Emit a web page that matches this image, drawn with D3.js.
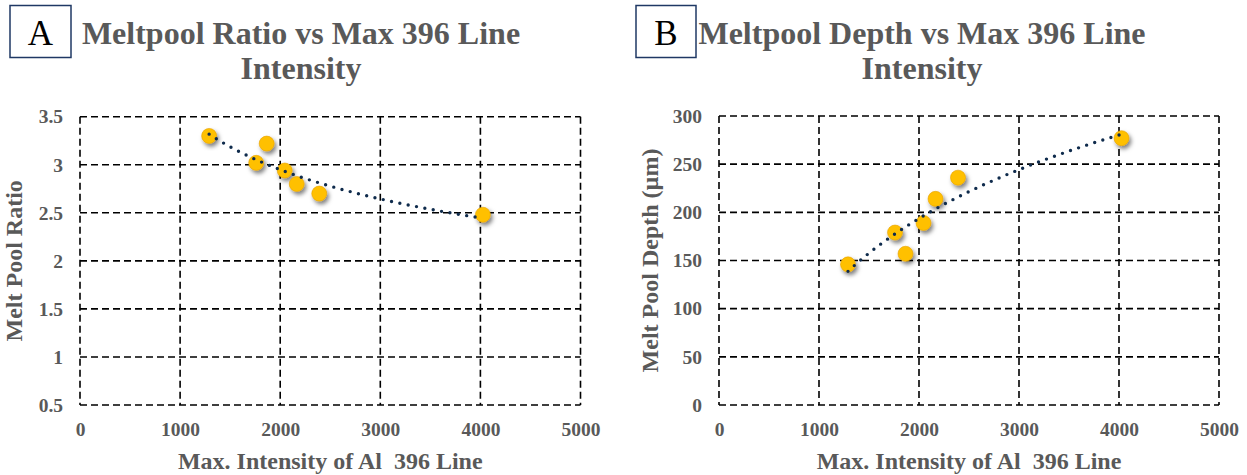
<!DOCTYPE html>
<html>
<head>
<meta charset="utf-8">
<script src="https://cdn.jsdelivr.net/npm/d3@7"></script>
<style>
  body { margin: 0; background: #fff; }
  svg { display: block; font-family: "Liberation Serif", "Times New Roman", serif; }
  .tick text { fill: #595959; font-weight: bold; font-size: 19.5px; }
  .title { fill: #595959; font-weight: bold; font-size: 32px; }
  .axis-title { fill: #595959; font-weight: bold; font-size: 24px; }
</style>
</head>
<body>
<svg id="chart" width="1247" height="475"></svg>
<script>
// Data
const intensity = [1290, 1760, 1865, 2045, 2165, 2390, 4025];
const meltRatio = [3.30, 3.02, 3.22, 2.94, 2.80, 2.70, 2.48];
const meltDepth = [146, 179, 157, 189, 214, 236, 277];
const xTicks = [0, 1000, 2000, 3000, 4000, 5000];
const ratioTicks = [0.5, 1, 1.5, 2, 2.5, 3, 3.5];
const depthTicks = [0, 50, 100, 150, 200, 250, 300];

const svg = d3.select('#chart');

// drop shadow for markers
const defs = svg.append('defs');
defs.append('filter').attr('id', 'shadow')
  .attr('x', '-50%').attr('y', '-50%').attr('width', '200%').attr('height', '200%')
  .append('feDropShadow')
  .attr('dx', 2).attr('dy', 3).attr('stdDeviation', 2)
  .attr('flood-color', '#000').attr('flood-opacity', 0.5);

// least squares fits (trendlines)
function powerFit(xs, ys) {
  const lx = xs.map(Math.log), ly = ys.map(Math.log);
  const mx = d3.mean(lx), my = d3.mean(ly);
  const b = d3.sum(lx, (v, i) => (v - mx) * (ly[i] - my)) / d3.sum(lx, v => (v - mx) ** 2);
  const a = Math.exp(my - b * mx);
  return x => a * Math.pow(x, b);
}
function logFit(xs, ys) {
  const lx = xs.map(Math.log);
  const mx = d3.mean(lx), my = d3.mean(ys);
  const b = d3.sum(lx, (v, i) => (v - mx) * (ys[i] - my)) / d3.sum(lx, v => (v - mx) ** 2);
  return x => my + b * (Math.log(x) - mx);
}

function drawPanel(cfg) {
  const g = svg.append('g');
  const x = d3.scaleLinear().domain([0, 5000]).range([cfg.left, cfg.right]);
  const y = d3.scaleLinear().domain(d3.extent(cfg.yTicks)).range([cfg.bottom, cfg.top]);

  // dashed grid (border included)
  const grid = g.append('g').attr('stroke', '#000').attr('stroke-width', 1.6)
    .attr('stroke-dasharray', '7,4').attr('fill', 'none');
  grid.selectAll('line.h').data(cfg.yTicks).enter().append('line')
    .attr('x1', cfg.left).attr('x2', cfg.right)
    .attr('y1', d => y(d)).attr('y2', d => y(d));
  grid.selectAll('line.v').data(xTicks).enter().append('line')
    .attr('y1', cfg.top).attr('y2', cfg.bottom)
    .attr('x1', d => x(d)).attr('x2', d => x(d));

  // axes (labels only)
  const xa = g.append('g').attr('transform', `translate(0,${cfg.bottom})`)
    .call(d3.axisBottom(x).tickValues(xTicks).tickSize(0).tickPadding(17).tickFormat(d3.format('d')));
  const ya = g.append('g').attr('transform', `translate(${cfg.left},0)`)
    .call(d3.axisLeft(y).tickValues(cfg.yTicks).tickSize(0).tickPadding(17).tickFormat(d => String(d)));
  [xa, ya].forEach(a => { a.select('.domain').remove(); a.attr('font-family', null).attr('font-size', null); });

  // markers
  g.append('g').selectAll('circle').data(intensity).enter().append('circle')
    .attr('cx', d => x(d)).attr('cy', (d, i) => y(cfg.values[i])).attr('r', 7.5)
    .attr('fill', '#ffc000').attr('stroke', '#e6a100').attr('stroke-width', 0.6)
    .attr('filter', 'url(#shadow)');

  // trendline
  const f = cfg.fit(intensity, cfg.values);
  const [x0, x1] = d3.extent(intensity);
  const pts = d3.range(0, 61).map(k => x0 + (x1 - x0) * k / 60);
  g.append('path').datum(pts)
    .attr('d', d3.line().x(d => x(d)).y(d => y(f(d))))
    .attr('fill', 'none').attr('stroke', '#0f2b4c').attr('stroke-width', 3.4)
    .attr('stroke-linecap', 'round').attr('stroke-dasharray', '0,8.5');

  // titles
  const cx = (cfg.left + cfg.right) / 2;
  g.append('text').attr('class', 'title').attr('text-anchor', 'middle')
    .attr('x', cfg.titleX).attr('y', 44).text(cfg.title[0]);
  g.append('text').attr('class', 'title').attr('text-anchor', 'middle')
    .attr('x', cfg.titleX).attr('y', 79).text(cfg.title[1]);
  g.append('text').attr('class', 'axis-title').attr('text-anchor', 'middle')
    .attr('x', cx).attr('y', 469).text('Max. Intensity of Al\u00a0\u00a0396 Line');
  g.append('text').attr('class', 'axis-title').attr('text-anchor', 'middle')
    .attr('transform', `translate(${cfg.yTitleX},${(cfg.top + cfg.bottom) / 2}) rotate(-90)`)
    .text(cfg.yTitle);

  // panel letter box
  g.append('rect').attr('x', cfg.box[0]).attr('y', 5.5).attr('width', cfg.box[1]).attr('height', 52)
    .attr('fill', '#fff').attr('stroke', '#1f3864').attr('stroke-width', 1.5);
  g.append('text').attr('x', cfg.box[0] + cfg.box[1] / 2).attr('y', 45)
    .attr('text-anchor', 'middle').attr('font-size', 35).attr('fill', '#000')
    .text(cfg.letter);
}

drawPanel({
  left: 80, right: 580.5, top: 116.7, bottom: 405,
  yTicks: ratioTicks, values: meltRatio, fit: powerFit,
  title: ['Meltpool Ratio vs Max 396 Line', 'Intensity'], titleX: 301,
  yTitle: 'Melt Pool Ratio', yTitleX: 22,
  letter: 'A', box: [10, 61]
});
drawPanel({
  left: 719, right: 1219, top: 116, bottom: 405,
  yTicks: depthTicks, values: meltDepth, fit: logFit,
  title: ['Meltpool Depth vs Max 396 Line', 'Intensity'], titleX: 922,
  yTitle: 'Melt Pool Depth (\u00b5m)', yTitleX: 658,
  letter: 'B', box: [636, 60]
});
</script>
</body>
</html>
